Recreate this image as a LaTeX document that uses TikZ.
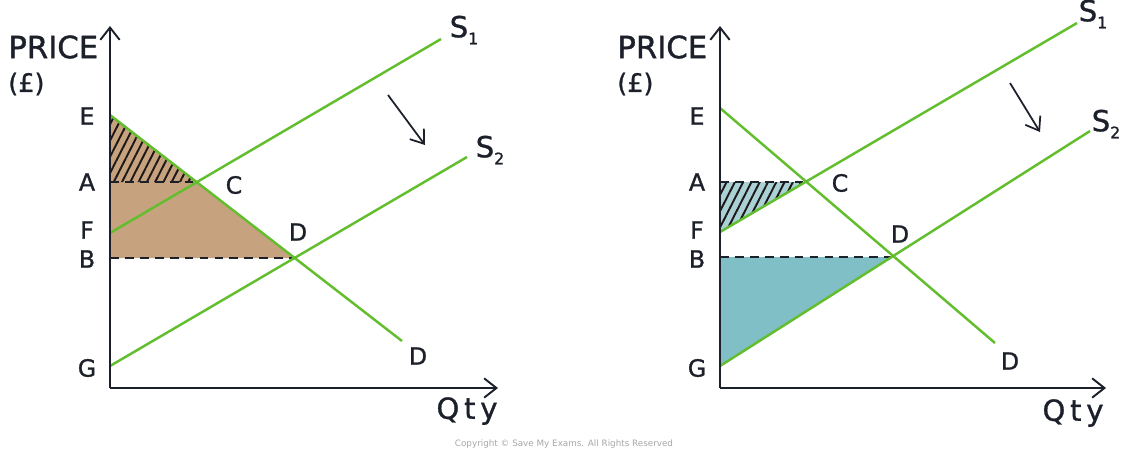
\documentclass[tikz,border=0pt]{standalone}
\usepackage{fontspec}
\setmainfont{DejaVu Sans}
\newfontfamily\lblfont{DejaVu Sans}[FakeBold=1.1]
\usetikzlibrary{arrows.meta,patterns.meta}
\definecolor{sgreen}{RGB}{98,190,45}
\definecolor{axisc}{RGB}{28,32,42}
\definecolor{tanfill}{RGB}{198,162,126}
\definecolor{tealfill}{RGB}{128,191,197}
\definecolor{tealhatchbg}{RGB}{170,210,214}
\definecolor{hatchdark}{RGB}{30,24,22}
\newcommand{\sub}[1]{{\fontsize{9}{9}\selectfont\raisebox{-4pt}{#1}}}
\begin{document}
\begin{tikzpicture}[x=0.02cm,y=-0.02cm,
  curve/.style={draw=sgreen,line width=1.4pt},
  axisline/.style={draw=axisc,line width=1.1pt,-{Straight Barb[length=7pt,width=11pt,line width=1.1pt]}},
  shiftarrow/.style={draw=axisc,line width=1pt,-{Straight Barb[length=7pt,width=10pt,line width=1pt]}},
  dashline/.style={draw=axisc,line width=1pt,dash pattern=on 5pt off 3.5pt},
  lbl/.style={font=\lblfont\fontsize{13.5}{14}\selectfont,text=axisc,inner sep=0pt},
  big/.style={font=\lblfont\fontsize{17.5}{18}\selectfont,text=axisc,inner sep=0pt},
  slbl/.style={font=\lblfont\fontsize{16.5}{17}\selectfont,text=axisc,inner sep=0pt},
  hatchL/.style={pattern={Lines[angle=63,distance=4.2pt,line width=1.1pt]},pattern color=hatchdark},
  hatchR/.style={pattern={Lines[angle=63,distance=4.2pt,line width=1.1pt]},pattern color=hatchdark}]
\useasboundingbox (0,0) rectangle (1122,454);

% ---------------- left chart ----------------
\coordinate (LO) at (110,388);
\coordinate (Ltop) at (110,26);
\coordinate (Lxend) at (498,388);
\coordinate (LE) at (110,115);
\coordinate (LDend) at (402,341);
\coordinate (LF) at (110,233);
\coordinate (LS1end) at (441,39);
\coordinate (LG) at (110,366);
\coordinate (LS2end) at (467,157);
\coordinate (LC) at (197,182);
\coordinate (LA) at (110,182);
\coordinate (LD) at (295,258);
\coordinate (LB) at (110,258);
\coordinate (LArrS) at (388,95);
\coordinate (LArrE) at (425,145);

\fill[tanfill] (LE) -- (LD) -- (LB) -- cycle;
\fill[hatchL] (LE) -- (LC) -- (LA) -- cycle;
\draw[dashline] (LA) -- (LC);
\draw[dashline] (LB) -- (LD);
\draw[curve] (LE) -- (LDend);
\draw[curve] (LF) -- (LS1end);
\draw[curve] (LG) -- (LS2end);
\draw[axisline] (LO) -- (Ltop);
\draw[axisline] (LO) -- (Lxend);
\draw[shiftarrow] (LArrS) -- (LArrE);

\node[big,anchor=west] (Lprice) at (8,47) {PRICE};
\node[lbl,anchor=west,font=\lblfont\fontsize{14.5}{15}\selectfont] (Lpound) at (8,84) {(£)};
\node[lbl] (LlE) at (87,116) {E};
\node[lbl] (LlA) at (87,182) {A};
\node[lbl] (LlF) at (87,230) {F};
\node[lbl] (LlB) at (87,259) {B};
\node[lbl] (LlG) at (87,368) {G};
\node[lbl] (LlC) at (234,185) {C};
\node[lbl] (LlD) at (298,232) {D};
\node[lbl] (LlDd) at (418,356) {D};
\node[slbl] (LlS1) at (464,30) {S\sub{1}};
\node[slbl] (LlS2) at (490,150) {S\sub{2}};
\node[slbl] (LlQ) at (467,411) {Q\,t\,y};

% ---------------- right chart ----------------
\coordinate (RO) at (720,388);
\coordinate (Rtop) at (720,26);
\coordinate (Rxend) at (1106,388);
\coordinate (RE) at (720,108);
\coordinate (RDend) at (995,343);
\coordinate (RF) at (720,232);
\coordinate (RS1end) at (1077,23);
\coordinate (RG) at (720,366);
\coordinate (RS2end) at (1090,131);
\coordinate (RC) at (806,182);
\coordinate (RA) at (720,182);
\coordinate (RD) at (893,257);
\coordinate (RB) at (720,257);
\coordinate (RArrS) at (1010,83);
\coordinate (RArrE) at (1040,132);

\fill[tealfill] (RB) -- (RD) -- (RG) -- cycle;
\fill[tealhatchbg] (RA) -- (RC) -- (RF) -- cycle;
\fill[hatchR] (RA) -- (RC) -- (RF) -- cycle;
\draw[dashline] (RA) -- (RC);
\draw[dashline] (RB) -- (RD);
\draw[curve] (RE) -- (RDend);
\draw[curve] (RF) -- (RS1end);
\draw[curve] (RG) -- (RS2end);
\draw[axisline] (RO) -- (Rtop);
\draw[axisline] (RO) -- (Rxend);
\draw[shiftarrow] (RArrS) -- (RArrE);

\node[big,anchor=west] (Rprice) at (617,47) {PRICE};
\node[lbl,anchor=west,font=\lblfont\fontsize{14.5}{15}\selectfont] (Rpound) at (617,84) {(£)};
\node[lbl] (RlE) at (697,116) {E};
\node[lbl] (RlA) at (697,182) {A};
\node[lbl] (RlF) at (697,230) {F};
\node[lbl] (RlB) at (697,259) {B};
\node[lbl] (RlG) at (697,368) {G};
\node[lbl] (RlC) at (840,183) {C};
\node[lbl] (RlD) at (900,234) {D};
\node[lbl] (RlDd) at (1010,361) {D};
\node[slbl] (RlS1) at (1093,14) {S\sub{1}};
\node[slbl] (RlS2) at (1106,124) {S\sub{2}};
\node[slbl] (RlQ) at (1073,413) {Q\,t\,y};

\node[font=\fontsize{5}{5}\selectfont,text=black!35,inner sep=0pt] (copy) at (564,444) {Copyright © Save My Exams. All Rights Reserved};
\end{tikzpicture}
\end{document}
